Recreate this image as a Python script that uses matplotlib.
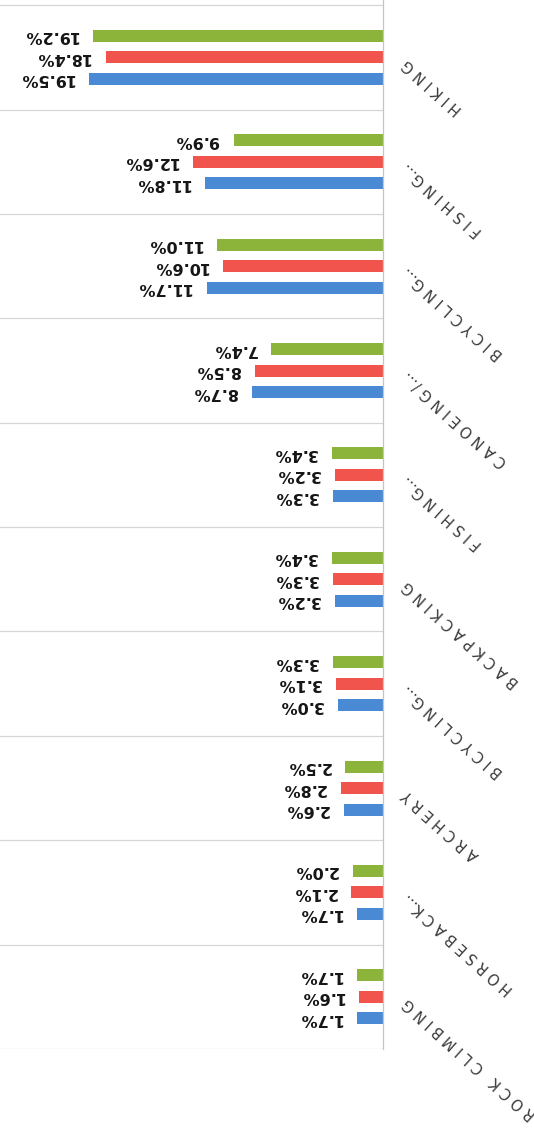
import matplotlib.pyplot as plt
import numpy as np

# groups as they appear from top to bottom
categories = [
    "HIKING",
    "FISHING...",
    "BICYCLING...",
    "CANOEING/...",
    "FISHING...",
    "BACKPACKING",
    "BICYCLING...",
    "ARCHERY",
    "HORSEBACK...",
    "ROCK CLIMBING",
]
blue_vals = [19.5, 11.8, 11.7, 8.7, 3.3, 3.2, 3.0, 2.6, 1.7, 1.7]
red_vals = [18.4, 12.6, 10.6, 8.5, 3.2, 3.3, 3.1, 2.8, 2.1, 1.6]
green_vals = [19.2, 9.9, 11.0, 7.4, 3.4, 3.4, 3.3, 2.5, 2.0, 1.7]

BLUE = "#4a8ad4"
RED = "#f0544c"
GREEN = "#8db43a"
GRID = "#d6d6d6"


def spaced(label):
    words = label.split(" ")
    out = []
    for w in words:
        head = w.rstrip(".")
        tail = w[len(head):]
        out.append(" ".join(head) + tail)
    return "   ".join(out)


W, H = 534, 1138
fig = plt.figure(figsize=(W / 100, H / 100), dpi=100)
ax = fig.add_axes([0, 89 / H, 383 / W, 1 - 89 / H])

y = np.arange(len(categories))
off = 0.206
bh = 0.115
series = [(green_vals, GREEN, -off), (red_vals, RED, 0.0), (blue_vals, BLUE, off)]

for vals, color, dy in series:
    ax.barh(y + dy, vals, height=bh, color=color)
    for yi, v in zip(y, vals):
        ax.annotate(f"{v:.1f}%", xy=(v, yi + dy), xytext=(-15, 0),
                    textcoords="offset pixels", ha="right", va="center",
                    rotation=180, fontsize=11.5, fontweight="heavy",
                    color="#151515", annotation_clip=False)

for i, cat in enumerate(categories):
    ax.annotate(spaced(cat), xy=(0, i), xytext=(22, -4),
                textcoords="offset pixels", ha="right", va="center",
                rotation=138, rotation_mode="anchor", fontsize=10.5,
                color="#3a3a3a", annotation_clip=False)

for b in np.arange(-0.5, len(categories), 1.0):
    ax.axhline(b, color=GRID, lw=0.9, zorder=0)

ax.set_xlim(25.4, 0)
ax.set_ylim(len(categories) - 0.5, -0.55)
ax.set_xticks([])
ax.set_yticks([])
for side in ["top", "bottom", "left"]:
    ax.spines[side].set_visible(False)
ax.spines["right"].set_color("#c4c4c4")
ax.spines["right"].set_linewidth(0.9)

fig.savefig("out.png", dpi=100)
plt.close(fig)
